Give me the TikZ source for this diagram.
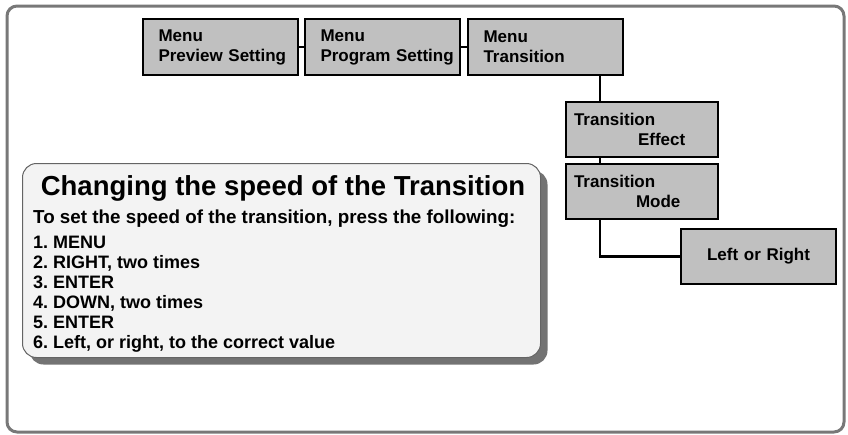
\documentclass[tikz,border=0pt]{standalone}
\usepackage{fontspec}
\setmainfont{Liberation Sans}
\usetikzlibrary{positioning,shadows}
\definecolor{menugray}{RGB}{192,192,192}
\definecolor{framegray}{RGB}{120,120,120}
\definecolor{notefill}{RGB}{243,243,243}
\definecolor{noteedge}{RGB}{100,100,100}
\definecolor{shadowgray}{RGB}{115,115,115}
\frenchspacing

\begin{document}
\begin{tikzpicture}[x=1pt,y=-1pt,
    menubox/.style={draw=black, line width=2pt, fill=menugray, anchor=north west,
      minimum width=155pt, minimum height=56pt, text width=124pt, inner xsep=15.5pt,
      inner ysep=0pt, align=left, font=\bfseries\fontsize{17}{20}\selectfont},
    subbox/.style={menubox, minimum width=152pt, minimum height=55pt, text width=136pt, inner xsep=8pt},
    lorbox/.style={menubox, minimum height=55pt, align=center},
    link/.style={draw=black, line width=2.5pt},
    notebox/.style={draw=noteedge, line width=1pt, fill=notefill, rounded corners=14pt,
      anchor=north west, minimum width=518pt, minimum height=194pt,
      drop shadow={shadow xshift=7pt, shadow yshift=-7pt, fill=shadowgray, opacity=1}},
    notetitle/.style={inner sep=0pt, anchor=base, font=\bfseries\fontsize{27.5}{30}\selectfont},
    noteintro/.style={inner sep=0pt, anchor=base west, font=\bfseries\fontsize{18.8}{22}\selectfont},
    noteline/.style={inner sep=0pt, anchor=base west, font=\bfseries\fontsize{18}{20}\selectfont}
  ]
  \useasboundingbox (0,0) rectangle (848,434);
  % outer frame
  \draw[framegray, line width=3pt, rounded corners=10pt] (7,6) rectangle (844,432);

  % menu path
  \node[menubox] (preview) at (142,18) {Menu\\\mbox{Preview Setting}};
  \node[menubox, right=5pt of preview] (program) {Menu\\\mbox{Program Setting}};
  \node[menubox, right=6pt of program] (transition) {Menu\\Transition};
  \node[subbox] (effect) at (565,101) {Transition\\\hspace*{64pt}Effect};
  \node[subbox, below=5pt of effect] (mode) {Transition\\\hspace*{62pt}Mode};
  \node[lorbox] (leftright) at (680,228) {Left or Right};

  \draw[link] (preview.east) -- (program.west);
  \draw[link] (program.east) -- (transition.west);
  \draw[link] ([xshift=35pt]effect.north west) -- ([xshift=35pt]effect.north west |- transition.south);
  \draw[link] ([xshift=35pt]effect.south west) -- ([xshift=35pt]mode.north west);
  \draw[link] ([xshift=35pt]mode.south west) |- (leftright.west);

  % instructions
  \node[notebox] (note) at (22,163) {};
  \node[notetitle] (title) at (283,195) {Changing the speed of the Transition};
  \node[noteintro] (intro) at (33,223) {To set the speed of the transition, press the following:};
  \node[noteline] (step1) at (33,248) {1. MENU};
  \node[noteline] (step2) at (33,268) {2. RIGHT, two times};
  \node[noteline] (step3) at (33,288) {3. ENTER};
  \node[noteline] (step4) at (33,308) {4. DOWN, two times};
  \node[noteline] (step5) at (33,328) {5. ENTER};
  \node[noteline] (step6) at (33,348) {6. Left, or right, to the correct value};
\end{tikzpicture}
\end{document}
